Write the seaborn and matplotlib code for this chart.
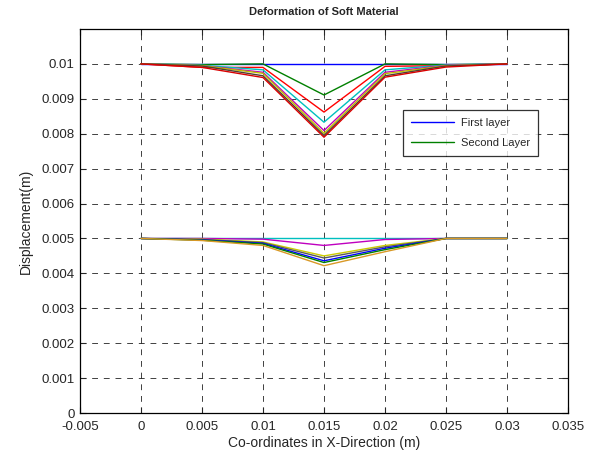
import numpy as np
import pandas as pd
import matplotlib
matplotlib.use("Agg")
import matplotlib.pyplot as plt
import seaborn as sns
from matplotlib.lines import Line2D

x = [0, 0.005, 0.01, 0.015, 0.02, 0.025, 0.03]

# Top layer deformation curves
top_blue    = [0.01, 0.01,    0.01,    0.01,    0.01,    0.01,    0.01]
top_green   = [0.01, 0.00998, 0.01,    0.00911, 0.01,    0.00998, 0.01]
top_red     = [0.01, 0.0099,  0.0099,  0.00862, 0.00993, 0.00995, 0.01]
top_cyan    = [0.01, 0.00996, 0.00983, 0.00833, 0.00983, 0.00997, 0.01]
top_magenta = [0.01, 0.00995, 0.00976, 0.00809, 0.00976, 0.00996, 0.01]
top_yellow  = [0.01, 0.00995, 0.00973, 0.00801, 0.00972, 0.00995, 0.01]
top_black   = [0.01, 0.00994, 0.00966, 0.00795, 0.00966, 0.00994, 0.01]
top_red2    = [0.01, 0.0099,  0.00961, 0.0079,  0.00962, 0.00991, 0.01]

# Bottom layer deformation curves
bot_cyan    = [0.005, 0.005,   0.005,   0.005,   0.005,   0.005, 0.005]
bot_magenta = [0.005, 0.005,   0.00498, 0.0048,  0.00497, 0.005, 0.005]
bot_yellow  = [0.005, 0.00498, 0.0049,  0.0045,  0.0048,  0.005, 0.005]
bot_black   = [0.005, 0.00497, 0.00488, 0.00444, 0.00476, 0.005, 0.005]
bot_blue    = [0.005, 0.00496, 0.00486, 0.00436, 0.00472, 0.005, 0.005]
bot_green   = [0.005, 0.00495, 0.00484, 0.00431, 0.00468, 0.005, 0.005]
bot_orange  = [0.005, 0.00494, 0.0048,  0.00422, 0.00462, 0.005, 0.005]

x_tick_labels = ["-0.005", "0", "0.005", "0.01", "0.015", "0.02", "0.025", "0.03", "0.035"]
y_tick_labels = ["0", "0.001", "0.002", "0.003", "0.004", "0.005", "0.006",
                 "0.007", "0.008", "0.009", "0.01"]
legend_labels = ["First layer", "Second Layer"]

series = [
    ("t_blue", top_blue, (0, 0, 1)),
    ("t_green", top_green, (0, 0.5, 0)),
    ("t_red", top_red, (1, 0, 0)),
    ("t_cyan", top_cyan, (0, 0.75, 0.75)),
    ("t_magenta", top_magenta, (0.75, 0, 0.75)),
    ("t_yellow", top_yellow, (0.75, 0.75, 0)),
    ("t_black", top_black, (0.3, 0.25, 0.2)),
    ("t_red2", top_red2, (0.85, 0, 0)),
    ("b_cyan", bot_cyan, (0, 0.75, 0.75)),
    ("b_magenta", bot_magenta, (0.75, 0, 0.75)),
    ("b_yellow", bot_yellow, (0.8, 0.8, 0)),
    ("b_black", bot_black, (0.35, 0.35, 0.35)),
    ("b_blue", bot_blue, (0, 0, 1)),
    ("b_green", bot_green, (0, 0.5, 0)),
    ("b_orange", bot_orange, (0.85, 0.6, 0.15)),
]

rows = []
for name, vals, _ in series:
    for xi, yi in zip(x, vals):
        rows.append({"x": xi, "y": yi, "series": name})
df = pd.DataFrame(rows)
palette = {name: c for name, _, c in series}

sns.set_style("white")
plt.rcParams["font.family"] = ["Liberation Sans", "DejaVu Sans"]

fig = plt.figure(figsize=(5.97, 4.57), dpi=100)
ax = fig.add_axes([80/597, 1-413/457, 488/597, 384/457])

sns.lineplot(data=df, x="x", y="y", hue="series", palette=palette,
             hue_order=[s[0] for s in series], legend=False, ax=ax,
             linewidth=1.0, estimator=None, sort=False)

ax.set_xlim(-0.005, 0.035)
ax.set_ylim(0, 0.011)
xt = [-0.005, 0, 0.005, 0.01, 0.015, 0.02, 0.025, 0.03, 0.035]
yt = [0, 0.001, 0.002, 0.003, 0.004, 0.005, 0.006, 0.007, 0.008, 0.009, 0.01]
ax.set_xticks(xt)
ax.set_xticklabels(x_tick_labels)
ax.set_yticks(yt)
ax.set_yticklabels(y_tick_labels)
ax.tick_params(direction="in", length=4, labelsize=9.5, width=0.8, top=True, right=True,
               bottom=True, left=True, labeltop=False, labelright=False)
ax.tick_params(axis="x", pad=6)
ax.tick_params(axis="y", pad=4)
ax.grid(True, color="black", linestyle=(0, (6, 6)), linewidth=0.7, alpha=0.75)
for sp in ax.spines.values():
    sp.set_color("black")
    sp.set_linewidth(0.9)

ax.set_xlabel("Co-ordinates in X-Direction (m)", fontsize=10, labelpad=2)
ax.set_ylabel("Displacement(m)", fontsize=10, labelpad=6)
ax.set_title("Deformation of Soft Material", fontsize=8, fontweight="bold", pad=10)

handles = [Line2D([0], [0], color=(0, 0, 1), lw=1),
           Line2D([0], [0], color=(0, 0.5, 0), lw=1)]
leg = ax.legend(handles, legend_labels, loc="upper left",
                bbox_to_anchor=(0.662, 0.789), fontsize=8, frameon=True,
                fancybox=False, borderpad=0.7, handlelength=3.9, handletextpad=0.63,
                labelspacing=0.9, borderaxespad=0)
leg.get_frame().set_edgecolor("black")
leg.get_frame().set_linewidth(0.9)

fig.savefig("out.png", dpi=100, facecolor="white")
